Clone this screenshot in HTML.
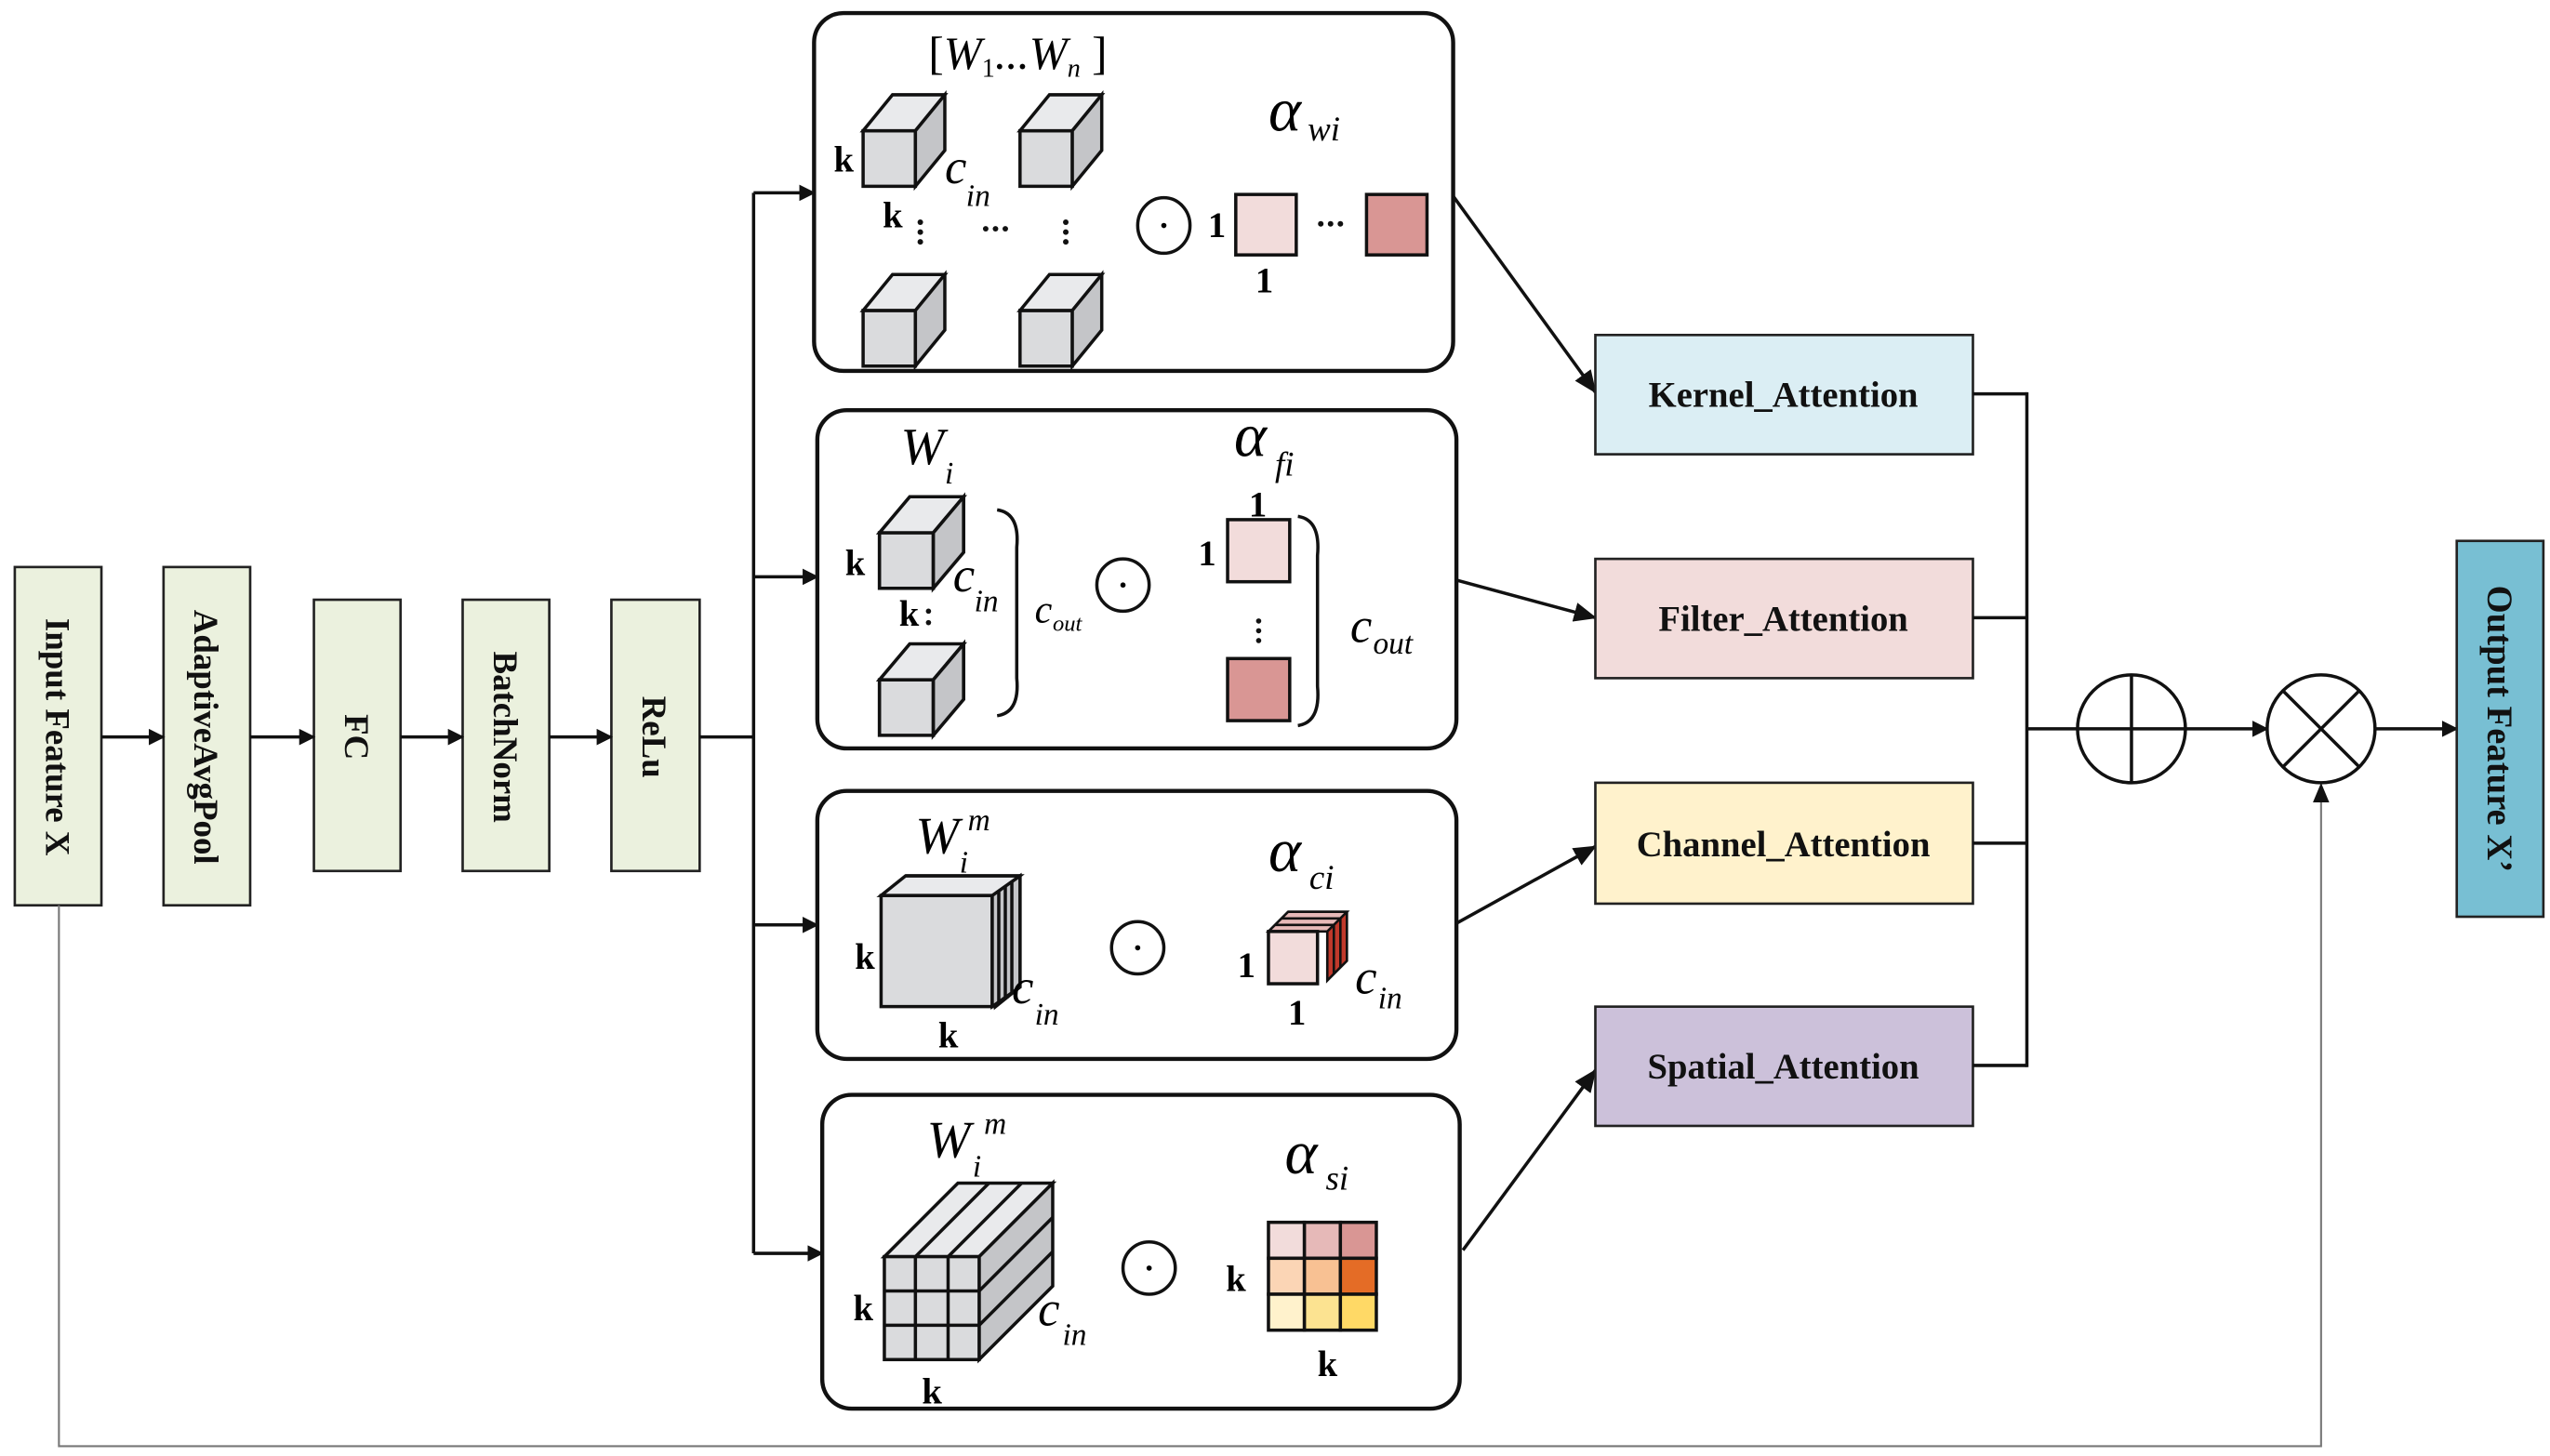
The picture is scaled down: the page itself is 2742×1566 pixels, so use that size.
<!DOCTYPE html>
<html><head><meta charset="utf-8"><style>
html,body{margin:0;padding:0;background:#fff}
svg{display:block}
text{font-family:"Liberation Serif",serif}
.b{font-weight:bold}
.i{font-style:italic}
</style></head><body>
<svg width="2742" height="1566" viewBox="0 0 1560 891" xmlns="http://www.w3.org/2000/svg">
<defs>
<marker id="ar" markerWidth="10" markerHeight="10" refX="9" refY="5" orient="auto" markerUnits="userSpaceOnUse"><path d="M0,0 L10,5 L0,10 z" fill="#111"/></marker>
<marker id="ar2" markerWidth="14" markerHeight="12" refX="13" refY="6" orient="auto" markerUnits="userSpaceOnUse"><path d="M0,0 L14,6 L0,12 z" fill="#111"/></marker>
<g id="cube"><path d="M0,0 h32 v34 h-32 z" fill="#dadbdd" stroke="#111" stroke-width="2"/><path d="M0,0 l18,-22 h32 l-18,22 z" fill="#e9eaec" stroke="#111" stroke-width="2"/><path d="M32,0 l18,-22 v34 l-18,22 z" fill="#c4c5c8" stroke="#111" stroke-width="2"/></g>
</defs>

<g stroke="#222" stroke-width="1.5" fill="#ebf1de">
<rect x="9" y="347" width="53" height="207"/>
<rect x="100" y="347" width="53" height="207"/>
<rect x="192" y="367" width="53" height="166"/>
<rect x="283" y="367" width="53" height="166"/>
<rect x="374" y="367" width="54" height="166"/>
</g>
<g class="b" font-size="21" fill="#111" text-anchor="middle">
<text transform="translate(28,451) rotate(90)">Input Feature X</text>
<text transform="translate(119,451) rotate(90)">AdaptiveAvgPool</text>
<text transform="translate(211,451) rotate(90)">FC</text>
<text transform="translate(302,451) rotate(90)">BatchNorm</text>
<text transform="translate(393,451) rotate(90)">ReLu</text>
</g>
<g stroke="#111" stroke-width="2" fill="none">
<line x1="62" y1="451" x2="100" y2="451" marker-end="url(#ar)"/>
<line x1="153" y1="451" x2="192" y2="451" marker-end="url(#ar)"/>
<line x1="245" y1="451" x2="283" y2="451" marker-end="url(#ar)"/>
<line x1="336" y1="451" x2="374" y2="451" marker-end="url(#ar)"/>
<line x1="428" y1="451" x2="461" y2="451"/>
<line x1="461" y1="118" x2="461" y2="767"/>
<line x1="461" y1="118" x2="498" y2="118" marker-end="url(#ar)"/>
<line x1="461" y1="353" x2="500" y2="353" marker-end="url(#ar)"/>
<line x1="461" y1="566" x2="500" y2="566" marker-end="url(#ar)"/>
<line x1="461" y1="767" x2="503" y2="767" marker-end="url(#ar)"/>
</g>

<g stroke="#111" stroke-width="2.5" fill="#fff">
<rect x="498" y="8" width="391" height="219" rx="18"/>
<rect x="500" y="251" width="391" height="207" rx="18"/>
<rect x="500" y="484" width="391" height="164" rx="18"/>
<rect x="503" y="670" width="390" height="192" rx="18"/>
</g>

<!-- panel 1 -->
<use href="#cube" x="528" y="80"/><use href="#cube" x="624" y="80"/>
<use href="#cube" x="528" y="190"/><use href="#cube" x="624" y="190"/>
<text x="568" y="42" font-size="28"><tspan>[</tspan><tspan class="i">W</tspan><tspan font-size="16" dy="5">1</tspan><tspan dy="-5" class="i">...W</tspan><tspan font-size="16" dy="5" class="i">n</tspan><tspan dy="-5"> ]</tspan></text>
<text x="510" y="105" font-size="22" class="b">k</text>
<text x="540" y="139" font-size="22" class="b">k</text>
<text x="578" y="112" font-size="30" class="i">c</text><text x="591" y="126" font-size="19" class="i">in</text>
<g fill="#111"><circle cx="563" cy="136" r="1.7"/><circle cx="563" cy="142" r="1.7"/><circle cx="563" cy="148" r="1.7"/>
<circle cx="652" cy="136" r="1.7"/><circle cx="652" cy="142" r="1.7"/><circle cx="652" cy="148" r="1.7"/>
<circle cx="603" cy="140" r="1.7"/><circle cx="609" cy="140" r="1.7"/><circle cx="615" cy="140" r="1.7"/>
<circle cx="808" cy="137" r="1.7"/><circle cx="814" cy="137" r="1.7"/><circle cx="820" cy="137" r="1.7"/></g>
<ellipse cx="712" cy="138" rx="16" ry="17" fill="none" stroke="#111" stroke-width="2"/><circle cx="712" cy="138" r="1.6"/>
<text x="739" y="145" font-size="22" class="b">1</text>
<rect x="756" y="119" width="37" height="37" fill="#f2dcdb" stroke="#111" stroke-width="2"/>
<rect x="836" y="119" width="37" height="37" fill="#d99694" stroke="#111" stroke-width="2"/>
<text x="768" y="179" font-size="22" class="b">1</text>
<text x="776" y="80" font-size="38" class="i">α</text><text x="800" y="86" font-size="21" class="i">wi</text>

<!-- panel 2 -->
<text x="551" y="284" font-size="32" class="i">W</text><text x="578" y="296" font-size="19" class="i">i</text>
<g transform="translate(538,326) scale(1.03,1)"><use href="#cube"/></g>
<g transform="translate(538,416) scale(1.03,1)"><use href="#cube"/></g>
<text x="517" y="352" font-size="22" class="b">k</text>
<text x="550" y="383" font-size="22" class="b">k</text>
<g fill="#111"><circle cx="568" cy="374" r="1.6"/><circle cx="568" cy="381" r="1.6"/></g>
<text x="583" y="362" font-size="30" class="i">c</text><text x="596" y="374" font-size="19" class="i">in</text>
<path d="M610,312 Q624,314 622,335 L622,415 Q624,436 610,438" fill="none" stroke="#111" stroke-width="2"/>
<text x="633" y="381" font-size="24" class="i">c</text><text x="644" y="386" font-size="14" class="i">out</text>
<ellipse cx="687" cy="358" rx="16" ry="16" fill="none" stroke="#111" stroke-width="2"/><circle cx="687" cy="358" r="1.6"/>
<text x="755" y="279" font-size="38" class="i">α</text><text x="780" y="291" font-size="21" class="i">fi</text>
<text x="764" y="316" font-size="22" class="b">1</text>
<text x="733" y="346" font-size="22" class="b">1</text>
<rect x="751" y="318" width="38" height="38" fill="#f2dcdb" stroke="#111" stroke-width="2"/>
<g fill="#111"><circle cx="770" cy="380" r="1.6"/><circle cx="770" cy="386" r="1.6"/><circle cx="770" cy="392" r="1.6"/></g>
<rect x="751" y="403" width="38" height="38" fill="#d99694" stroke="#111" stroke-width="2"/>
<path d="M794,316 Q808,318 806,340 L806,420 Q808,442 794,444" fill="none" stroke="#111" stroke-width="2"/>
<text x="826" y="393" font-size="30" class="i">c</text><text x="840" y="400" font-size="19" class="i">out</text>

<!-- panel 3 -->
<text x="560" y="522" font-size="32" class="i">W</text><text x="587" y="534" font-size="19" class="i">i</text><text x="592" y="508" font-size="19" class="i">m</text>
<g stroke="#111" stroke-width="2">
<path d="M554,536 h70 v68 l-15,12 v-68 z" fill="#c4c5c8"/>
<path d="M550,540 h70 v68" fill="none"/><path d="M546,543 h70 v68" fill="none"/><path d="M542,546 h70 v68" fill="none"/>
<path d="M539,548 h68 v68 h-68 z" fill="#dadbdd"/>
<path d="M539,548 l15,-12 h70 l-15,12 z" fill="#e9eaec"/>
<path d="M607,548 l17,-12 v68 l-17,12 z" fill="#c4c5c8"/>
<line x1="611" y1="545" x2="611" y2="613"/><line x1="615" y1="542" x2="615" y2="610"/><line x1="619" y1="539" x2="619" y2="607"/>
</g>
<text x="523" y="593" font-size="22" class="b">k</text>
<text x="574" y="641" font-size="22" class="b">k</text>
<text x="619" y="614" font-size="30" class="i">c</text><text x="633" y="627" font-size="19" class="i">in</text>
<ellipse cx="696" cy="580" rx="16" ry="16" fill="none" stroke="#111" stroke-width="2"/><circle cx="696" cy="580" r="1.6"/>
<text x="776" y="533" font-size="38" class="i">α</text><text x="801" y="544" font-size="21" class="i">ci</text>
<g stroke="#111" stroke-width="1.5">
<path d="M788,558 h36 v30 l-12,12 v-30 z" fill="#c0392b"/>
<path d="M776,570 l12,-12 h36 l-12,12 z" fill="#e6b9b8"/>
<line x1="780" y1="566" x2="816" y2="566"/><line x1="784" y1="562" x2="820" y2="562"/>
<line x1="816" y1="566" x2="816" y2="596"/><line x1="820" y1="562" x2="820" y2="592"/>
<rect x="776" y="570" width="30" height="32" fill="#f2dcdb" stroke-width="2"/>
</g>
<text x="757" y="598" font-size="22" class="b">1</text>
<text x="788" y="627" font-size="22" class="b">1</text>
<text x="829" y="608" font-size="30" class="i">c</text><text x="843" y="617" font-size="19" class="i">in</text>

<!-- panel 4 -->
<text x="567" y="708" font-size="32" class="i">W</text><text x="595" y="720" font-size="19" class="i">i</text><text x="602" y="694" font-size="19" class="i">m</text>
<g stroke="#111" stroke-width="2">
<path d="M541,769 l45,-45 h58 l-45,45 z" fill="#e9eaec"/>
<path d="M599,769 l45,-45 v63 l-45,45 z" fill="#c4c5c8"/>
<line x1="560" y1="769" x2="605" y2="724"/><line x1="580" y1="769" x2="625" y2="724"/>
<line x1="599" y1="790" x2="644" y2="745"/><line x1="599" y1="811" x2="644" y2="766"/>
<rect x="541" y="769" width="58" height="63" fill="#dadbdd"/>
<line x1="560" y1="769" x2="560" y2="832"/><line x1="580" y1="769" x2="580" y2="832"/>
<line x1="541" y1="790" x2="599" y2="790"/><line x1="541" y1="811" x2="599" y2="811"/>
</g>
<text x="522" y="808" font-size="22" class="b">k</text>
<text x="564" y="859" font-size="22" class="b">k</text>
<text x="635" y="811" font-size="30" class="i">c</text><text x="650" y="823" font-size="19" class="i">in</text>
<ellipse cx="703" cy="776" rx="16" ry="16" fill="none" stroke="#111" stroke-width="2"/><circle cx="703" cy="776" r="1.6"/>
<text x="786" y="718" font-size="38" class="i">α</text><text x="811" y="728" font-size="21" class="i">si</text>
<g stroke="#111" stroke-width="2">
<rect x="776" y="748" width="22" height="22" fill="#f2dcdb"/><rect x="798" y="748" width="22" height="22" fill="#e6b9b8"/><rect x="820" y="748" width="22" height="22" fill="#d99694"/>
<rect x="776" y="770" width="22" height="22" fill="#fbd5b5"/><rect x="798" y="770" width="22" height="22" fill="#f8c193"/><rect x="820" y="770" width="22" height="22" fill="#e46c26"/>
<rect x="776" y="792" width="22" height="22" fill="#fff2cc"/><rect x="798" y="792" width="22" height="22" fill="#fce391"/><rect x="820" y="792" width="22" height="22" fill="#ffd966"/>
</g>
<text x="750" y="790" font-size="22" class="b">k</text>
<text x="806" y="842" font-size="22" class="b">k</text>

<g stroke="#111" stroke-width="2" fill="none">
<line x1="889" y1="120" x2="976" y2="240" marker-end="url(#ar2)"/>
<line x1="891" y1="355" x2="976" y2="378" marker-end="url(#ar2)"/>
<line x1="891" y1="565" x2="976" y2="518" marker-end="url(#ar2)"/>
<line x1="895" y1="765" x2="976" y2="655" marker-end="url(#ar2)"/>
</g>

<g stroke="#222" stroke-width="1.5">
<rect x="976" y="205" width="231" height="73" fill="#dbeef4"/>
<rect x="976" y="342" width="231" height="73" fill="#f2dcdb"/>
<rect x="976" y="479" width="231" height="74" fill="#fff2cc"/>
<rect x="976" y="616" width="231" height="73" fill="#ccc1da"/>
</g>
<g class="b" font-size="22" fill="#111" text-anchor="middle">
<text x="1091" y="249">Kernel_Attention</text>
<text x="1091" y="386">Filter_Attention</text>
<text x="1091" y="524">Channel_Attention</text>
<text x="1091" y="660">Spatial_Attention</text>
</g>

<g stroke="#111" stroke-width="2" fill="none">
<line x1="1207" y1="241" x2="1240" y2="241"/>
<line x1="1207" y1="378" x2="1240" y2="378"/>
<line x1="1207" y1="516" x2="1240" y2="516"/>
<line x1="1207" y1="652" x2="1240" y2="652"/>
<line x1="1240" y1="240" x2="1240" y2="653"/>
<line x1="1240" y1="446" x2="1271" y2="446"/>
<circle cx="1304" cy="446" r="33"/>
<line x1="1271" y1="446" x2="1337" y2="446"/><line x1="1304" y1="413" x2="1304" y2="479"/>
<line x1="1337" y1="446" x2="1387" y2="446" marker-end="url(#ar)"/>
<circle cx="1420" cy="446" r="33"/>
<line x1="1397" y1="423" x2="1443" y2="469"/><line x1="1443" y1="423" x2="1397" y2="469"/>
<line x1="1453" y1="446" x2="1503" y2="446" marker-end="url(#ar)"/>
</g>
<rect x="1503" y="331" width="53" height="230" fill="#78bfd3" stroke="#222" stroke-width="1.5"/>
<text transform="translate(1522,446) rotate(90)" class="b" font-size="22" text-anchor="middle" fill="#111">Output Feature X’</text>

<g stroke="#777" stroke-width="1.2" fill="none">
<polyline points="36,554 36,885 1420,885 1420,488"/>
</g>
<path d="M1415,491 L1420,479 L1425,491 z" fill="#111"/>
</svg>
</body></html>
